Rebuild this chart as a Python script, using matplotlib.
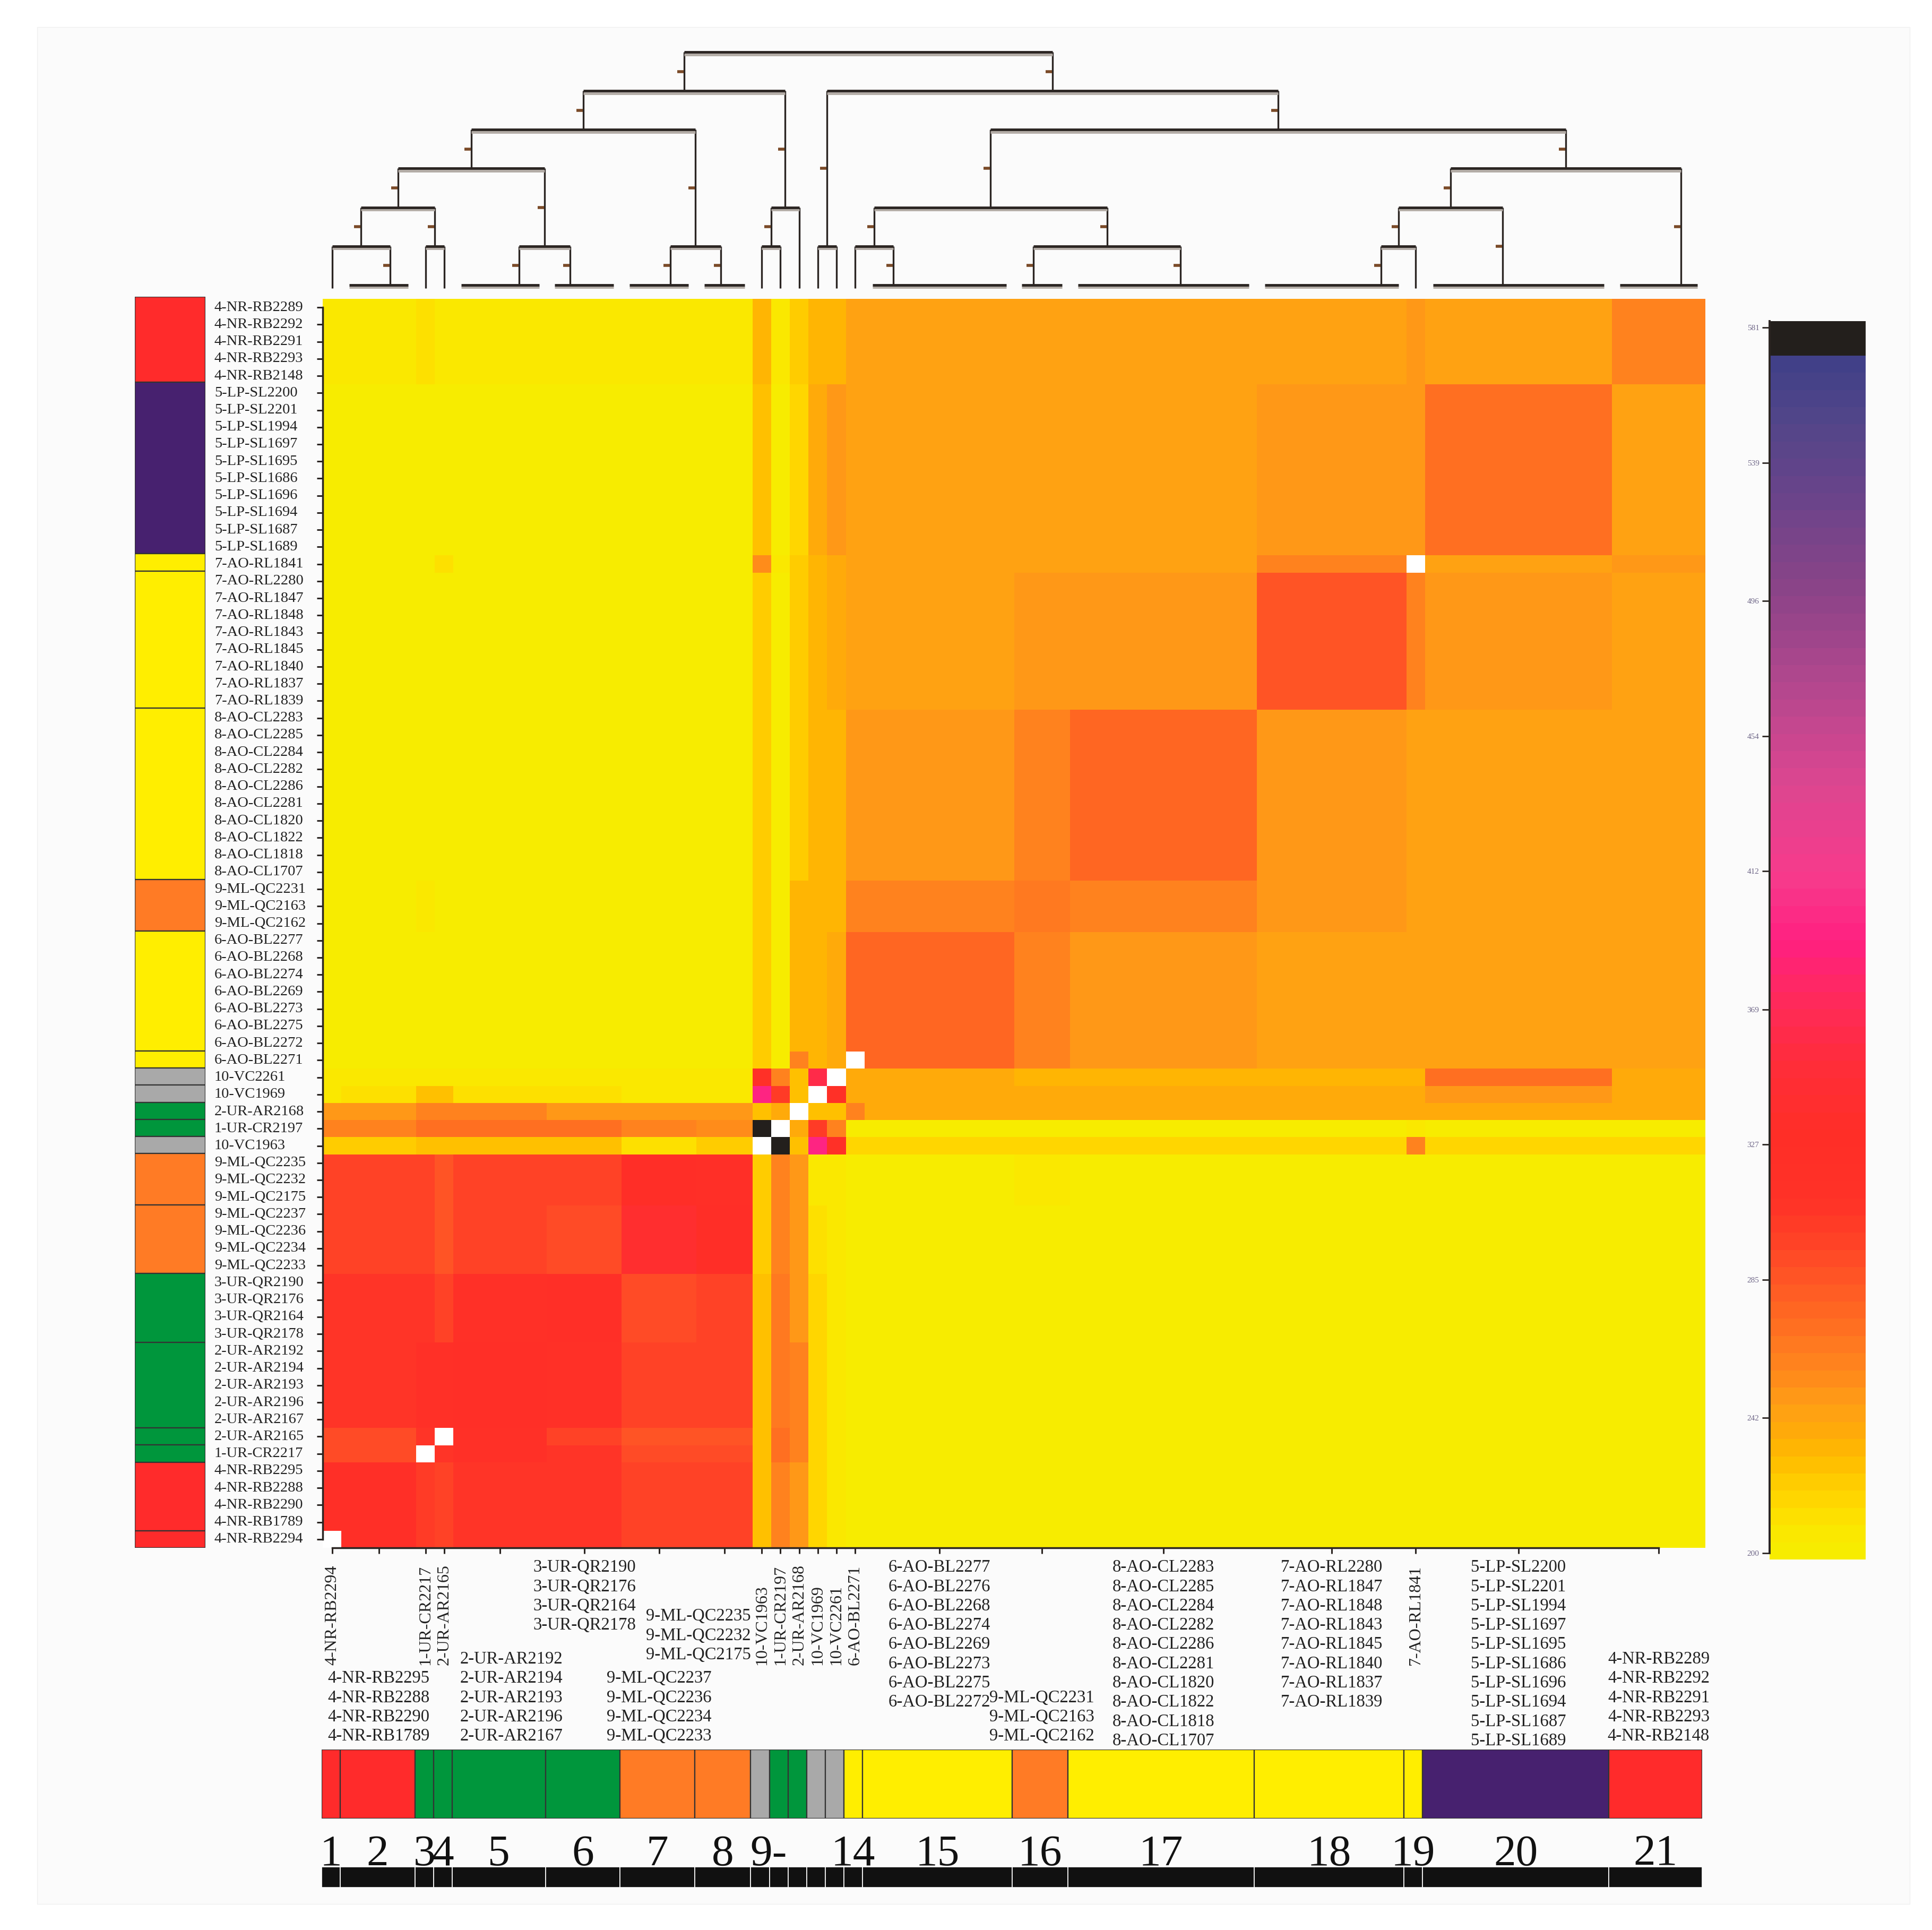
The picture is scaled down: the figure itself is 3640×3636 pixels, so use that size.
import numpy as np
import matplotlib
matplotlib.use("Agg")
import matplotlib.pyplot as plt
from matplotlib.colors import LinearSegmentedColormap, Normalize
from matplotlib.patches import Rectangle
from matplotlib.transforms import blended_transform_factory as blend

plt.rcParams['font.family'] = ['Liberation Serif', 'DejaVu Serif']

W, H = 3640, 3636


def fx(p):
    return p / W


def fy(p):
    return 1 - p / H


nan = np.nan

# column groups, left to right (labels as printed under the matrix)
groups = [
    ["4-NR-RB2294"],
    ["4-NR-RB2295", "4-NR-RB2288", "4-NR-RB2290", "4-NR-RB1789"],
    ["1-UR-CR2217"],
    ["2-UR-AR2165"],
    ["2-UR-AR2192", "2-UR-AR2194", "2-UR-AR2193", "2-UR-AR2196", "2-UR-AR2167"],
    ["3-UR-QR2190", "3-UR-QR2176", "3-UR-QR2164", "3-UR-QR2178"],
    ["9-ML-QC2237", "9-ML-QC2236", "9-ML-QC2234", "9-ML-QC2233"],
    ["9-ML-QC2235", "9-ML-QC2232", "9-ML-QC2175"],
    ["10-VC1963"],
    ["1-UR-CR2197"],
    ["2-UR-AR2168"],
    ["10-VC1969"],
    ["10-VC2261"],
    ["6-AO-BL2271"],
    ["6-AO-BL2277", "6-AO-BL2276", "6-AO-BL2268", "6-AO-BL2274",
     "6-AO-BL2269", "6-AO-BL2273", "6-AO-BL2275", "6-AO-BL2272"],
    ["9-ML-QC2231", "9-ML-QC2163", "9-ML-QC2162"],
    ["8-AO-CL2283", "8-AO-CL2285", "8-AO-CL2284", "8-AO-CL2282", "8-AO-CL2286",
     "8-AO-CL2281", "8-AO-CL1820", "8-AO-CL1822", "8-AO-CL1818", "8-AO-CL1707"],
    ["7-AO-RL2280", "7-AO-RL1847", "7-AO-RL1848", "7-AO-RL1843",
     "7-AO-RL1845", "7-AO-RL1840", "7-AO-RL1837", "7-AO-RL1839"],
    ["7-AO-RL1841"],
    ["5-LP-SL2200", "5-LP-SL2201", "5-LP-SL1994", "5-LP-SL1697", "5-LP-SL1695",
     "5-LP-SL1686", "5-LP-SL1696", "5-LP-SL1694", "5-LP-SL1687", "5-LP-SL1689"],
    ["4-NR-RB2289", "4-NR-RB2292", "4-NR-RB2291", "4-NR-RB2293", "4-NR-RB2148"],
]

# rows, top to bottom
row_labels = [
    "4-NR-RB2289", "4-NR-RB2292", "4-NR-RB2291", "4-NR-RB2293", "4-NR-RB2148",
    "5-LP-SL2200", "5-LP-SL2201", "5-LP-SL1994", "5-LP-SL1697", "5-LP-SL1695",
    "5-LP-SL1686", "5-LP-SL1696", "5-LP-SL1694", "5-LP-SL1687", "5-LP-SL1689",
    "7-AO-RL1841", "7-AO-RL2280", "7-AO-RL1847", "7-AO-RL1848", "7-AO-RL1843",
    "7-AO-RL1845", "7-AO-RL1840", "7-AO-RL1837", "7-AO-RL1839",
    "8-AO-CL2283", "8-AO-CL2285", "8-AO-CL2284", "8-AO-CL2282", "8-AO-CL2286",
    "8-AO-CL2281", "8-AO-CL1820", "8-AO-CL1822", "8-AO-CL1818", "8-AO-CL1707",
    "9-ML-QC2231", "9-ML-QC2163", "9-ML-QC2162",
    "6-AO-BL2277", "6-AO-BL2268", "6-AO-BL2274", "6-AO-BL2269", "6-AO-BL2273",
    "6-AO-BL2275", "6-AO-BL2272", "6-AO-BL2271",
    "10-VC2261", "10-VC1969", "2-UR-AR2168", "1-UR-CR2197", "10-VC1963",
    "9-ML-QC2235", "9-ML-QC2232", "9-ML-QC2175",
    "9-ML-QC2237", "9-ML-QC2236", "9-ML-QC2234", "9-ML-QC2233",
    "3-UR-QR2190", "3-UR-QR2176", "3-UR-QR2164", "3-UR-QR2178",
    "2-UR-AR2192", "2-UR-AR2194", "2-UR-AR2193", "2-UR-AR2196", "2-UR-AR2167",
    "2-UR-AR2165", "1-UR-CR2217",
    "4-NR-RB2295", "4-NR-RB2288", "4-NR-RB2290", "4-NR-RB1789", "4-NR-RB2294",
]

region_colors = {"NR": "#ff2b2b", "LP": "#47216f", "AO": "#ffee00",
                 "ML": "#ff7b25", "VC": "#a9a9a9", "UR": "#00963c"}

# value per (row group, column group), groups 1..21
group_values = [
    [nan, 322, 302, 296, 306, 306, 296, 296, 225, 262, 251, 216, 204, 203, 203, 203, 203, 203, 203, 203, 203],
    [322, 322, 302, 296, 306, 306, 296, 296, 225, 262, 251, 216, 204, 203, 203, 203, 203, 203, 203, 203, 203],
    [290, 290, nan, 308, 320, 305, 293, 293, 228, 268, 262, 216, 204, 203, 203, 203, 203, 203, 203, 203, 203],
    [290, 290, 308, nan, 320, 296, 287, 287, 228, 268, 262, 216, 204, 203, 203, 203, 203, 203, 203, 203, 203],
    [306, 306, 320, 320, 322, 320, 296, 296, 229, 265, 262, 216, 204, 203, 203, 203, 203, 203, 203, 203, 203],
    [308, 308, 308, 296, 320, 322, 294, 296, 229, 265, 251, 216, 204, 203, 203, 203, 203, 203, 203, 203, 203],
    [296, 296, 296, 287, 296, 294, 340, 328, 222, 262, 251, 212, 204, 203, 203, 203, 203, 203, 203, 203, 203],
    [296, 296, 296, 287, 296, 296, 328, 326, 222, 257, 249, 208, 204, 203, 203, 207, 203, 203, 203, 203, 203],
    [220, 220, 228, 228, 228, 228, 214, 222, nan, 580, 225, 392, 318, 216, 216, 216, 216, 216, 262, 216, 216],
    [262, 262, 270, 270, 268, 268, 262, 256, 580, nan, 238, 300, 262, 203, 203, 203, 203, 203, 205, 203, 203],
    [251, 251, 262, 262, 262, 251, 251, 248, 225, 238, nan, 225, 225, 262, 238, 238, 238, 238, 238, 238, 238],
    [204, 214, 225, 225, 214, 214, 204, 204, 392, 300, 225, nan, 318, 238, 238, 238, 238, 238, 238, 251, 238],
    [204, 204, 204, 204, 204, 204, 204, 204, 318, 262, 225, 362, nan, 238, 238, 234, 234, 234, 234, 268, 238],
    [203, 203, 203, 203, 203, 203, 203, 203, 220, 203, 262, 231, 238, nan, 277, 257, 251, 244, 244, 244, 244],
    [203, 203, 203, 203, 203, 203, 203, 203, 220, 203, 231, 231, 238, 277, 277, 257, 251, 244, 244, 244, 244],
    [203, 203, 207, 203, 203, 203, 203, 203, 220, 203, 231, 231, 231, 257, 257, 265, 257, 251, 244, 244, 244],
    [203, 203, 203, 203, 203, 203, 203, 203, 220, 203, 222, 231, 231, 251, 251, 257, 277, 251, 244, 244, 244],
    [203, 203, 203, 203, 203, 203, 203, 203, 220, 203, 222, 231, 238, 244, 244, 251, 251, 284, 262, 251, 244],
    [203, 203, 203, 212, 203, 203, 203, 203, 256, 205, 222, 231, 238, 244, 244, 244, 244, 262, nan, 244, 251],
    [203, 203, 203, 203, 203, 203, 203, 203, 225, 203, 216, 238, 251, 244, 244, 244, 244, 251, 251, 270, 244],
    [208, 208, 214, 208, 208, 208, 208, 208, 231, 208, 220, 231, 231, 244, 244, 244, 244, 244, 251, 244, 262],
]

group_numbers = ["1", "2", "3", "4", "5", "6", "7", "8", "9-", "", "", "", "",
                 "14", "15", "16", "17", "18", "19", "20", "21"]

cbar_ticks = [200, 242, 285, 327, 369, 412, 454, 496, 539, 581]
vmin, vmax = 198, 583

cmap_anchors = [
    (198, "#f7ec00"), (204, "#fae800"), (212, "#ffdb00"), (220, "#ffcb00"),
    (228, "#ffba00"), (236, "#ffaa0a"), (244, "#ff9e16"), (252, "#ff8c1a"),
    (260, "#ff7e1f"), (268, "#ff7021"), (276, "#ff6223"), (284, "#ff5525"),
    (295, "#ff4326"), (308, "#ff3227"), (330, "#ff2e27"), (350, "#ff2d38"),
    (370, "#ff2a58"), (390, "#ff2080"), (410, "#f73a8b"), (440, "#dc4690"),
    (470, "#b4478e"), (500, "#8c4488"), (530, "#6a448a"), (555, "#514589"),
    (574, "#3f4088"), (575.5, "#231f1c"), (583, "#231f1c"),
]

# dendrogram: leaf attachment (in matrix columns) and merges (a, b, level)
leaf_x = [0.5, 3.6, 5.5, 6.5, 10.5, 13.25, 18.6, 21.3, 23.5, 24.5, 25.5,
          26.5, 27.5, 28.5, 30.55, 38.05, 45.9, 56.65, 58.5, 63.15, 72.7]
merges = [
    (1, 2, 1), (3, 4, 1), (5, 6, 1), (7, 8, 1), (9, 10, 1), (12, 13, 1),
    (14, 15, 1), (16, 17, 1), (18, 19, 1),
    (22, 23, 2), (26, 11, 2), (28, 29, 2), (30, 20, 2),
    (31, 24, 3), (34, 21, 3),
    (35, 25, 4), (33, 36, 4),
    (37, 32, 5), (27, 38, 5),
    (39, 40, 6),
]


def region(label):
    return label.split("-")[1][:2]


# ---------------------------------------------------------------
col_labels = [lab for g in groups for lab in g]
gid_of = {lab: i for i, g in enumerate(groups) for lab in g}
col_gid = [gid_of[l] for l in col_labels]
row_gid = [gid_of[l] for l in row_labels]
G = np.array(group_values, dtype=float)
M = G[np.ix_(row_gid, col_gid)]
n_rows, n_cols = M.shape
sizes = np.array([len(g) for g in groups])
starts = np.concatenate([[0], np.cumsum(sizes)])
centers = (starts[:-1] + starts[1:]) / 2

pos_c = [(v - vmin) / (vmax - vmin) for v, _ in cmap_anchors]
cmap = LinearSegmentedColormap.from_list("dist", list(zip(pos_c, [c for _, c in cmap_anchors])), N=72)
cmap.set_bad("white")
norm = Normalize(vmin, vmax)

fig = plt.figure(figsize=(W / 100, H / 100), dpi=100)
fig.patches.append(Rectangle((fx(70), fy(3587)), (3598 - 70) / W, (3587 - 51) / H,
                             transform=fig.transFigure, facecolor="#fbfbfb",
                             edgecolor="#f0f0f0", lw=1, zorder=-5))

line_c = "#2b2522"
text_c = "#222222"

# heatmap
ax = fig.add_axes([fx(608), fy(2916), (3213 - 608) / W, (2916 - 563) / H])
mesh = ax.pcolormesh(np.arange(n_cols + 1), np.arange(n_rows + 1), np.ma.masked_invalid(M),
                     cmap=cmap, norm=norm, edgecolors="none", antialiased=False)
ax.set_xlim(0, n_cols)
ax.set_ylim(n_rows, 0)
ax.set_facecolor("white")
ax.set_yticks(np.arange(n_rows) + 0.5)
ax.set_yticklabels([])
ax.set_xticks(centers)
ax.set_xticklabels([])
ax.tick_params(axis="both", length=8, width=2.2, color=line_c, direction="out")
for s in ("top", "right"):
    ax.spines[s].set_visible(False)
ax.spines["left"].set_bounds(0.5, n_rows - 0.5)
ax.spines["bottom"].set_bounds(centers[0], centers[-1])
for s in ("left", "bottom"):
    ax.spines[s].set_linewidth(2.5)
    ax.spines[s].set_color(line_c)

tr_rows = blend(fig.transFigure, ax.transData)
for i, lab in enumerate(row_labels):
    ax.text(fx(404), i + 0.5, lab, transform=tr_rows, ha="left", va="center",
            fontsize=20.5, color=text_c)

# column labels under the matrix
tr_cols = blend(ax.transData, fig.transFigure)
top_groups = {5, 14, 16, 17, 19}
bottom_groups = {1, 4, 6, 15, 20}
label_shift = {4: 0.6}
pitch = 36.3
for gi, members in enumerate(groups):
    if len(members) == 1:
        ax.text(centers[gi], fy(3137), members[0], transform=tr_cols, rotation=90,
                ha="center", va="bottom", fontsize=23, color=text_c)
        continue
    x = centers[gi] + label_shift.get(gi, 0)
    ha = "center"
    if gi in top_groups:
        y0 = 2953
    elif gi in bottom_groups:
        y0 = 3271 - pitch * (len(members) - 1)
    else:
        y0 = 3045
        x = starts[gi + 1] - 0.08
        ha = "right"
    for k, lab in enumerate(members):
        ax.text(x, fy(y0 + k * pitch), lab, transform=tr_cols, ha=ha, va="center",
                fontsize=23.5, color=text_c)

# left colour strip (rows)
ax_lb = fig.add_axes([fx(254), fy(2916), (387 - 254) / W, (2916 - 559) / H])
ax_lb.set_xlim(0, 1)
ax_lb.set_ylim(n_rows, 0)
ax_lb.axis("off")
s0 = 0
for i in range(1, n_rows + 1):
    if i == n_rows or row_gid[i] != row_gid[s0]:
        ax_lb.bar(0.5, i - s0, bottom=s0, width=1, color=region_colors[region(row_labels[s0])],
                  edgecolor="#333333", linewidth=1.6)
        s0 = i

# bottom colour strip (column groups)
ax_bb = fig.add_axes([fx(606), fy(3426), (3207 - 606) / W, (3426 - 3296) / H])
ax_bb.set_xlim(0, n_cols)
ax_bb.set_ylim(0, 1)
ax_bb.axis("off")
ax_bb.bar(centers, 1, width=sizes, color=[region_colors[region(g[0])] for g in groups],
          edgecolor="#333333", linewidth=1.6)

# group numbers and black strip
tr_num = blend(ax_bb.transData, fig.transFigure)
for gi, t in enumerate(group_numbers):
    if t:
        x = centers[gi] + (0.45 if t == "9-" else 0)
        ax_bb.text(x, fy(3514), t, transform=tr_num, ha="center", va="baseline",
                   fontsize=60, color="#111111")
ax_ft = fig.add_axes([fx(606), fy(3556), (3207 - 606) / W, (3556 - 3517) / H])
ax_ft.set_xlim(0, n_cols)
ax_ft.set_ylim(0, 1)
ax_ft.axis("off")
ax_ft.bar(centers, 1, width=sizes, color="#111111", edgecolor="white", linewidth=1.2)

# dendrogram
ax_dg = fig.add_axes([fx(608), fy(545), (3213 - 608) / W, (545 - 80) / H])
ax_dg.set_xlim(0, n_cols)
ax_dg.set_ylim(-0.114, 6.25)
ax_dg.axis("off")
pos = {i: leaf_x[i] for i in range(len(groups))}
hgt = {i: 0.0 for i in range(len(groups))}
node = len(groups)
for a, b, lev in merges:
    a, b = a - 1, b - 1
    for c in (a, b):
        multi = c >= len(groups) or sizes[c] > 1
        lo = hgt[c] if multi else -0.08
        ax_dg.plot([pos[c], pos[c]], [lo, lev], color=line_c, lw=2.4, solid_capstyle="butt")
        if multi:
            ax_dg.plot(pos[c] - 0.2, (hgt[c] + lev) / 2, marker="_", ms=9, mew=4,
                       color="#7a4a28")
    ax_dg.plot([pos[a], pos[b]], [lev - 0.06, lev - 0.06], color="#b3aca6", lw=3.5,
               solid_capstyle="butt")
    ax_dg.plot([pos[a], pos[b]], [lev, lev], color=line_c, lw=3.5, solid_capstyle="butt")
    pos[node] = (pos[a] + pos[b]) / 2
    hgt[node] = lev
    node += 1
for gi in range(len(groups)):
    if sizes[gi] > 1:
        ax_dg.plot([starts[gi] + 0.42, starts[gi + 1] - 0.42], [-0.06, -0.06], color="#b3aca6",
                   lw=3.5, solid_capstyle="butt")
        ax_dg.plot([starts[gi] + 0.42, starts[gi + 1] - 0.42], [0, 0], color=line_c, lw=3.5,
                   solid_capstyle="butt")

# colour scale
ax_cb = fig.add_axes([fx(3334), fy(2938), (3515 - 3334) / W, (2938 - 605) / H])
cb = fig.colorbar(mesh, cax=ax_cb, ticks=cbar_ticks)
cb.outline.set_visible(False)
ax_cb.yaxis.set_ticks_position("left")
ax_cb.tick_params(axis="y", length=10, width=2, pad=4, labelsize=11, color=line_c,
                  labelcolor="#6f6788")
ax_cb.plot([0, 0], [200, vmax], color=line_c, lw=2.8, clip_on=False)

fig.savefig("out.png", dpi=100)
